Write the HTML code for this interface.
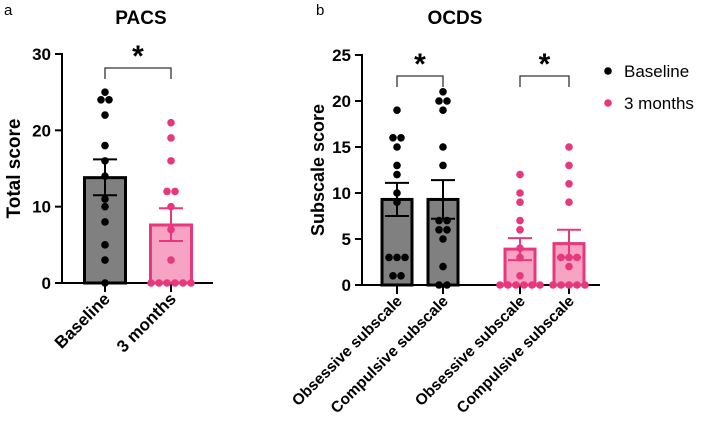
<!DOCTYPE html>
<html><head><meta charset="utf-8"><style>
body{margin:0;background:#fff}
svg{display:block;font-family:"Liberation Sans",Arial,sans-serif}
</style></head><body>
<svg id="c" width="711" height="434" viewBox="0 0 711 434"></svg>
<script>
// Panel a data
const pacsCats = ["Baseline", "3 months"];
const pacsMeans = [13.8, 7.6];
const pacsSemHi = [16.2, 9.8];
const pacsSemLo = [11.5, 5.5];
const pacsPoints = [
  [25,24,24,22,18,16,14,11,10,8,5,3,0],
  [21,19,16,12,12,10,7,3,0,0,0,0,0,0]
];
const pacsTicks = [0,10,20,30];
// Panel b data
const ocdsCats = ["Obsessive subscale","Compulsive subscale","Obsessive subscale","Compulsive subscale"];
const ocdsMeans = [9.3, 9.3, 3.9, 4.5];
const ocdsSemHi = [11.1, 11.4, 5.1, 6.0];
const ocdsSemLo = [7.5, 7.2, 2.7, 3.0];
const ocdsPoints = [
  [19,16,16,15,13,12,10,9,3,3,3,1,1],
  [21,20,20,19,15,13,7,7,6,6,5,2,0,0],
  [12,10,9,7,6,4,3,1,0,0,0,0,0,0],
  [15,13,11,9,3,3,3,2,0,0,0,0,0]
];
const ocdsGroups = [0,0,1,1];
const ocdsTicks = [0,5,10,15,20,25];
const legendLabels = ["Baseline","3 months"];

const NS="http://www.w3.org/2000/svg";
const svg=document.getElementById('c');
function el(tag,attrs,parent){const e=document.createElementNS(NS,tag);for(const k in attrs)e.setAttribute(k,attrs[k]);(parent||svg).appendChild(e);return e;}
function txt(s,attrs,parent){const e=el('text',attrs,parent);e.textContent=s;return e;}

const BLACK="#000", GRAY="#808080", PINK="#e8377c", PINKF="#f7a3c4";

function panel(o){
  const g=el('g',{});
  
  
  const y=v=>o.y0-(v/o.ymax)*(o.y0-o.y1);
  const ya=el('line',{x1:o.ax,y1:o.y1-1,x2:o.ax,y2:o.y0+1,stroke:BLACK,'stroke-width':2},g);
  
  const xa=el('line',{x1:o.ax,y1:o.y0,x2:o.axEnd,y2:o.y0,stroke:BLACK,'stroke-width':2},g);
  
  o.ticks.forEach(t=>{
    el('line',{x1:o.ax-7,x2:o.ax,y1:y(t),y2:y(t),stroke:BLACK,'stroke-width':2},g);
    const l=txt(String(t),{x:o.ax-11,y:y(t)+6,'text-anchor':'end','font-size':17,'font-weight':'bold'},g);
    
  });
  const yt=txt(o.ylabel,{x:0,y:0,transform:`translate(${o.ylx},${(o.y0+o.y1)/2}) rotate(-90)`,'text-anchor':'middle','font-size':o.ylSize,'font-weight':'bold'},g);
  
  const ti=txt(o.title,{x:o.tx,y:24,'text-anchor':'middle','font-size':19,'font-weight':'bold'},g);
  
  const le=txt(o.letter,{x:o.lx,y:15,'font-size':15},g);
  
  o.means.forEach((m,i)=>{
    const cx=o.cx[i], grp=o.groups[i], w=o.bw;
    const b=el('rect',{x:cx-w/2,y:y(m),width:w,height:o.y0-y(m),fill:grp?PINKF:GRAY,stroke:grp?PINK:BLACK,'stroke-width':3},g);
    
    
    el('line',{x1:cx,x2:cx,y1:o.y0+1,y2:o.y0+9,stroke:BLACK,'stroke-width':2},g);
    const ec=grp?PINK:BLACK;
    el('line',{x1:cx,x2:cx,y1:y(o.hi[i]),y2:y(o.lo[i]),stroke:ec,'stroke-width':2},g);
    el('line',{x1:cx-12,x2:cx+12,y1:y(o.hi[i]),y2:y(o.hi[i]),stroke:ec,'stroke-width':2},g);
    el('line',{x1:cx-12,x2:cx+12,y1:y(o.lo[i]),y2:y(o.lo[i]),stroke:ec,'stroke-width':2},g);
    const pts=o.points[i]; const counts={};
    pts.forEach(v=>counts[v]=(counts[v]||0)+1);
    const seen={};
    pts.forEach(v=>{
      const n=counts[v]; const k=(seen[v]=(seen[v]||0)+1)-1;
      const dx=n>1?(k-(n-1)/2)*o.sp:0;
      const c=el('circle',{cx:cx+dx,cy:y(v),r:3.8,fill:grp?PINK:BLACK},g);
      
      
    });
    const lab=txt(o.cats[i],{x:0,y:0,transform:`translate(${cx+6},${o.y0+17}) rotate(-45)`,'text-anchor':'end','font-size':o.labSize,'font-weight':'bold'},g);
    
  });
  o.brackets.forEach(([a,b])=>{
    const x1=o.cx[a],x2=o.cx[b];
    const p=el('path',{d:`M${x1} ${o.by+11}V${o.by}H${x2}V${o.by+11}`,fill:'none',stroke:'#333','stroke-width':1.3},g);
    
    const s=txt('*',{x:(x1+x2)/2,y:o.by-2,'text-anchor':'middle','font-size':30,'font-weight':'bold'},g);
    
  });
}

panel({name:'pacs-panel',ax:62,axEnd:213,y0:283,y1:54,ymax:30,ticks:pacsTicks,ylabel:'Total score',ylx:20,ylSize:19,
  title:'PACS',tx:141,letter:'a',lx:4,means:pacsMeans,hi:pacsSemHi,lo:pacsSemLo,points:pacsPoints,
  cx:[105,171],groups:[0,1],bw:41,sp:8,cats:pacsCats,labSize:17,brackets:[[0,1]],by:68});
panel({name:'ocds-panel',ax:362,axEnd:600,y0:285,y1:55,ymax:25,ticks:ocdsTicks,ylabel:'Subscale score',ylx:324,ylSize:18,
  title:'OCDS',tx:455,letter:'b',lx:316,means:ocdsMeans,hi:ocdsSemHi,lo:ocdsSemLo,points:ocdsPoints,
  cx:[397,443,520,569],groups:ocdsGroups,bw:30,sp:8,cats:ocdsCats,labSize:15.5,brackets:[[0,1],[2,3]],by:76});

const lg=el('g',{});


legendLabels.forEach((l,i)=>{
  const yy=71+i*32;
  const d=el('circle',{cx:608,cy:yy,r:3.8,fill:i?PINK:BLACK},lg);
  
  const t=txt(l,{x:624,y:yy+6,'font-size':17},lg);
  
});
</script>
</body></html>
